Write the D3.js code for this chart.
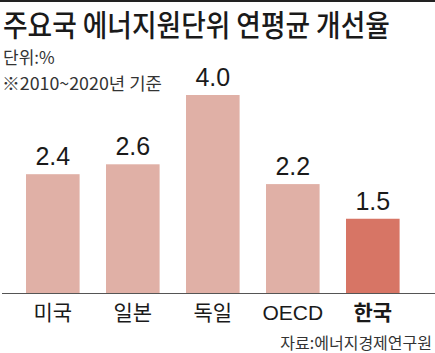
<!DOCTYPE html>
<html>
<head>
<meta charset="utf-8">
<script src="https://cdn.jsdelivr.net/npm/d3@7"></script>
<style>
  body { margin: 0; background: #fff; }
  text { font-family: "Noto Sans CJK KR", "Noto Sans", sans-serif; fill: #1a1a1a; }
  .num { font-family: "Liberation Sans Narrow", "Liberation Sans", sans-serif; }
</style>
</head>
<body>
<div id="chart"></div>
<script>
// chart data
const countries = ["미국", "일본", "독일", "OECD", "한국"];
const rates = [2.4, 2.6, 4.0, 2.2, 1.5];
const highlight = "한국";

const chart = {width: 435, height: 353};
chart.margin = {base: 293, top: 95};

chart.svg = d3.select("#chart")
    .append("svg")
    .attr("width", chart.width)
    .attr("height", chart.height);

// top rule
chart.svg.append("rect")
    .attr("x", 0).attr("y", 0)
    .attr("width", chart.width).attr("height", 2)
    .attr("fill", "#222");

// title + notes (glyphs squeezed horizontally like the print font)
const title = chart.svg.append("text")
    .text("주요국 에너지원단위 연평균 개선율")
    .style("font-size", "30px")
    .style("font-weight", 500);
const titleW = title.node().getComputedTextLength();
title.attr("transform", `translate(3, 36) scale(${387 / titleW}, 1)`);

chart.svg.append("text")
    .text("단위:%")
    .attr("x", 3).attr("y", 64)
    .style("font-size", "17px")
    .style("fill", "#333");

const note = chart.svg.append("text")
    .text("※2010~2020년 기준")
    .style("font-size", "17px")
    .style("fill", "#333");
const noteW = note.node().getComputedTextLength();
note.attr("transform", `translate(2, 90) scale(${160 / noteW}, 1)`);

// scales
const x = d3.scaleBand()
    .domain(countries)
    .range([0, 425.6])
    .paddingInner(0.33)
    .paddingOuter(0.325);

const y = d3.scaleLinear()
    .domain([0, 4])
    .range([chart.margin.base, chart.margin.top]);

// bars
chart.svg.append("g")
    .selectAll("rect")
    .data(countries)
    .enter()
    .append("rect")
    .attr("x", d => x(d))
    .attr("y", (d, i) => y(rates[i]))
    .attr("width", x.bandwidth())
    .attr("height", (d, i) => y(0) - y(rates[i]))
    .attr("fill", d => d === highlight ? "#d77565" : "#e0b0a6");

// value labels
chart.svg.append("g")
    .selectAll("text")
    .data(countries)
    .enter()
    .append("text")
    .classed("num", true)
    .text((d, i) => rates[i].toFixed(1))
    .attr("x", d => x(d) + x.bandwidth() / 2)
    .attr("y", (d, i) => y(rates[i]) - 9)
    .style("text-anchor", "middle")
    .style("font-size", "25px");

// baseline axis
const xAxis = chart.svg.append("g")
    .attr("transform", `translate(0, ${chart.margin.base})`)
    .call(d3.axisBottom(x).tickSize(0).tickPadding(12));
xAxis.select(".domain")
    .attr("d", "M2,0.5H435")
    .attr("stroke", "#555");
xAxis.selectAll(".tick text")
    .style("font-family", d => d === "OECD" ? "\"Liberation Sans\", sans-serif" : null)
    .style("font-size", "21px")
    .style("font-weight", d => d === highlight ? 700 : 400)
    .style("fill", "#1a1a1a");

// source
chart.svg.append("text")
    .text("자료:에너지경제연구원")
    .attr("x", 432).attr("y", 349)
    .style("text-anchor", "end")
    .style("font-size", "16px")
    .style("fill", "#333");
</script>
</body>
</html>
